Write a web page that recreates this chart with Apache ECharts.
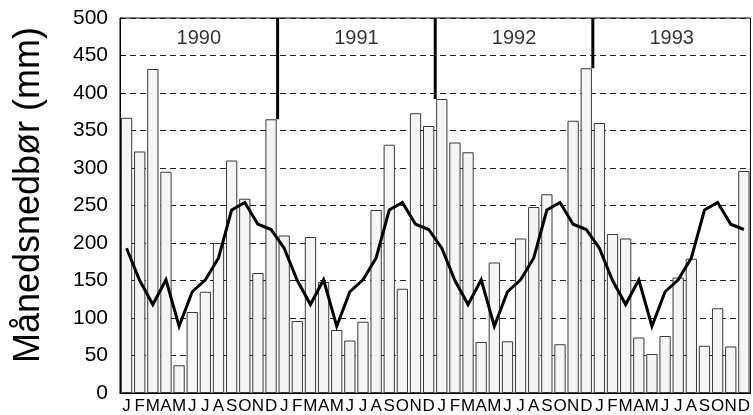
<!DOCTYPE html>
<html>
<head>
<meta charset="utf-8">
<script src="https://cdn.jsdelivr.net/npm/echarts@6/dist/echarts.min.js"></script>
<style>
  html, body { margin: 0; padding: 0; background: #fff; }
  #chart { width: 753px; height: 415px; }
</style>
</head>
<body>
<div id="chart"></div>
<script>
// Monthly precipitation (mm), 1990-1993, with the monthly normal repeated each year
const months = ['J', 'F', 'M', 'A', 'M', 'J', 'J', 'A', 'S', 'O', 'N', 'D'];
const years = ['1990', '1991', '1992', '1993'];
const precip1990 = [367, 322, 432, 295, 37, 108, 135, 200, 310, 259, 160, 365];
const precip1991 = [210, 96, 208, 148, 84, 70, 95, 244, 331, 139, 373, 356];
const precip1992 = [392, 334, 321, 68, 174, 69, 206, 248, 265, 65, 363, 433];
const precip1993 = [360, 212, 206, 74, 52, 76, 154, 179, 63, 113, 62, 296];
const normal = [193, 150, 118, 151, 89, 135, 151, 180, 244, 254, 225, 218];
const yTicks = [0, 50, 100, 150, 200, 250, 300, 350, 400, 450, 500];

const yearly = [precip1990, precip1991, precip1992, precip1993];
const categories = [];
const precip = [];
const normalSeries = [];
yearly.forEach(function (vals) {
  months.forEach(function (m, i) {
    categories.push(m);
    precip.push(vals[i]);
    normalSeries.push(normal[i]);
  });
});

const yMax = yTicks[yTicks.length - 1];
const nMonths = categories.length;

// Year separators: from the top of the frame down to the taller of the two bars at the boundary
const separators = [];
for (let y = 1; y < years.length; y++) {
  const k = y * 12;
  const bottom = Math.max(precip[k - 1], precip[k]);
  separators.push({
    type: 'line', xAxisIndex: 1, yAxisIndex: 0,
    data: [[k, yMax], [k, bottom]],
    symbol: 'none', silent: true, z: 5,
    lineStyle: { color: '#000', width: 3 }
  });
}

const yearLabelData = years.map(function (yr, i) {
  return { value: [i * 12 + 6, 473], name: yr };
});

const chart = echarts.init(document.getElementById('chart'), null, { renderer: 'canvas' });
chart.setOption({
  animation: false,
  backgroundColor: '#fff',
  grid: {
    left: 120, right: 1, top: 18, bottom: 22,
    show: true, borderColor: '#000', borderWidth: 1, backgroundColor: 'transparent'
  },
  graphic: [{
    type: 'text',
    x: 29, y: 195,
    rotation: Math.PI / 2,
    style: {
      text: 'Månedsnedbør (mm)',
      fontFamily: 'Liberation Sans, Arial, sans-serif',
      fontSize: 36,
      fill: '#000',
      textAlign: 'center',
      textVerticalAlign: 'middle'
    }
  }],
  xAxis: [{
    type: 'category',
    data: categories,
    boundaryGap: true,
    axisLine: { show: true, lineStyle: { color: '#000', width: 1 } },
    axisTick: { show: false },
    axisLabel: {
      interval: 0,
      color: '#000',
      fontFamily: 'Liberation Sans Narrow, Liberation Sans, Arial, sans-serif',
      fontSize: 17,
      margin: 5
    },
    splitLine: { show: false }
  }, {
    type: 'value',
    min: 0, max: nMonths,
    show: false
  }],
  yAxis: {
    type: 'value',
    min: 0, max: yMax, interval: 50,
    axisLine: { show: true, lineStyle: { color: '#000', width: 1 } },
    axisTick: { show: true, inside: true, length: 5, lineStyle: { color: '#000' } },
    axisLabel: {
      color: '#000',
      fontFamily: 'Liberation Sans, Arial, sans-serif',
      fontSize: 21,
      margin: 12
    },
    splitLine: {
      show: true,
      lineStyle: { color: '#222', width: 1, type: [6, 4] }
    }
  },
  series: [{
    type: 'bar',
    data: precip,
    barCategoryGap: '14%',
    itemStyle: { color: '#f5f5f5', borderColor: '#3a3a3a', borderWidth: 1 },
    z: 2
  }, {
    type: 'line',
    data: normalSeries,
    symbol: 'none',
    lineStyle: { color: '#000', width: 3, join: 'miter' },
    z: 4
  }].concat(separators).concat([{
    type: 'scatter',
    xAxisIndex: 1, yAxisIndex: 0,
    data: yearLabelData,
    symbolSize: 0,
    silent: true,
    label: {
      show: true,
      position: 'inside',
      formatter: function (p) { return p.name; },
      color: '#000',
      fontFamily: 'Liberation Sans, Arial, sans-serif',
      fontSize: 20
    },
    z: 6
  }])
});
</script>
</body>
</html>
